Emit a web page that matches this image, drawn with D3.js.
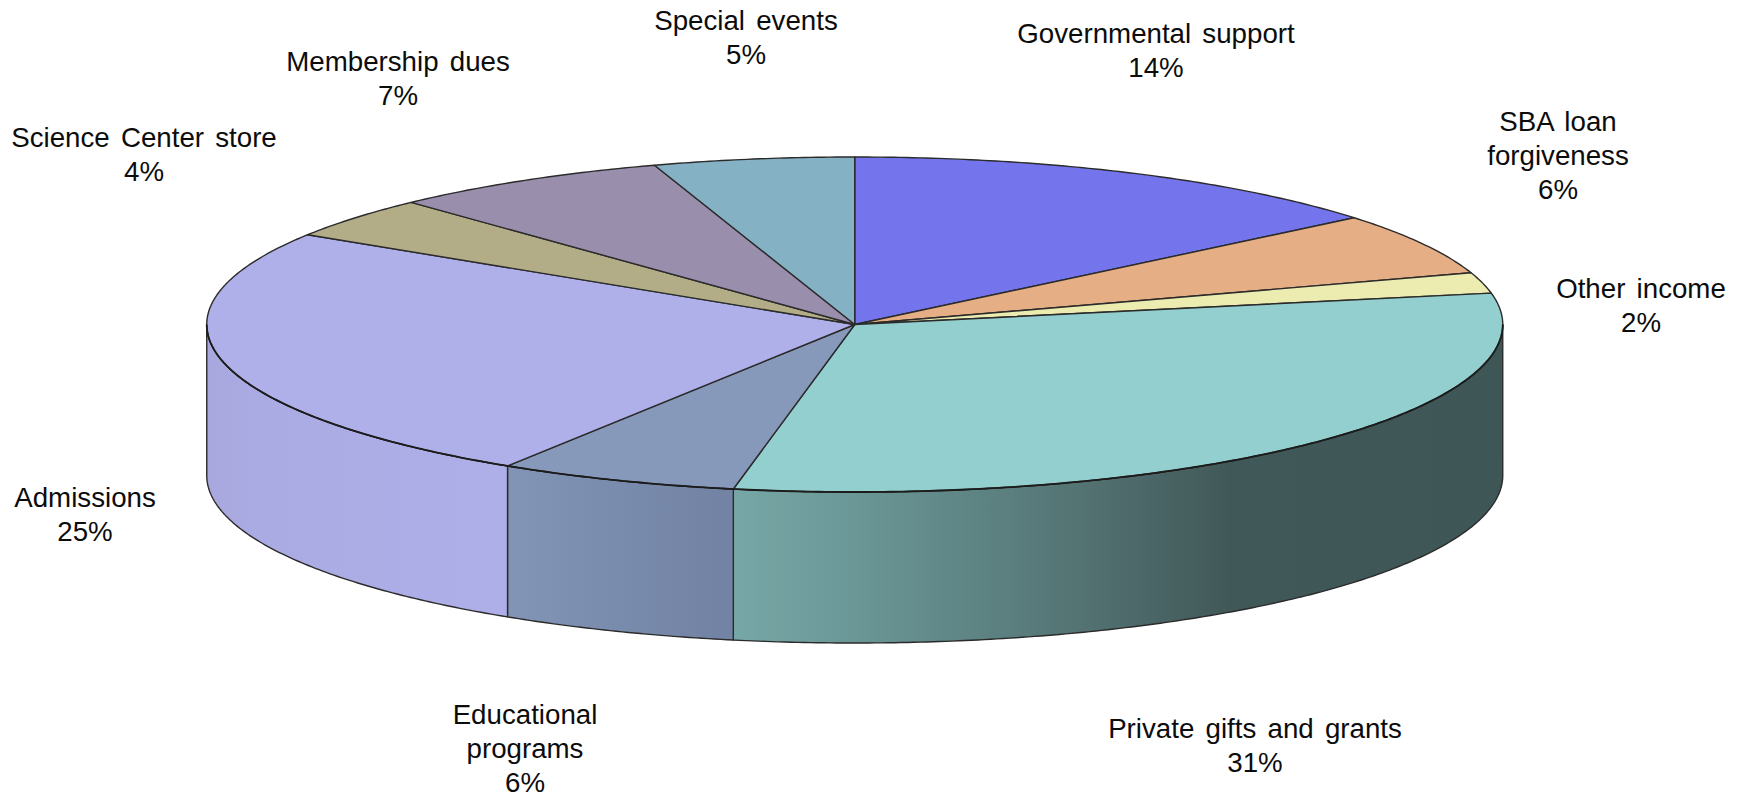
<!DOCTYPE html>
<html>
<head>
<meta charset="utf-8">
<title>Operating revenue by source</title>
<script src="https://cdn.jsdelivr.net/npm/d3@7/dist/d3.min.js"></script>
<style>
  html, body { margin: 0; padding: 0; background: #fff; }
  svg { display: block; }
  text { font-family: "Liberation Sans", Arial, sans-serif; font-size: 27.7px; fill: #0c0c0c; word-spacing: 3.5px; }
</style>
</head>
<body>
<svg id="chart" width="1745" height="797"></svg>
<script>
// Revenue sources, clockwise from twelve o'clock
const categories = [
  "Governmental support", "SBA loan forgiveness", "Other income",
  "Private gifts and grants", "Educational programs", "Admissions",
  "Science Center store", "Membership dues", "Special events"
];
const shares = [14, 6, 2, 31, 6, 25, 4, 7, 5];
const topColors = [
  "#7475ec", "#e6ae84", "#ecebb0", "#93cfcf", "#8699bb",
  "#afafea", "#b2ad87", "#9a8ead", "#84b2c4"
];

// Wrapped label lines and their placement (centre x, first baseline)
const labelLines = [
  ["Governmental support"], ["SBA loan", "forgiveness"], ["Other income"],
  ["Private gifts and grants"], ["Educational", "programs"], ["Admissions"],
  ["Science Center store"], ["Membership dues"], ["Special events"]
];
const labelAnchors = [
  [1156, 43], [1558, 131], [1641, 298],
  [1255, 738], [525, 724], [85, 507],
  [144, 147], [398, 71], [746, 30]
];

// Shading of the rim, as [x, colour] stops along the horizontal
const rimStops = {
  "Private gifts and grants": [[718, "#78a9a8"], [860, "#6a9696"], [1060, "#567676"], [1230, "#415858"], [1503, "#3f5656"]],
  "Educational programs": [[484, "#8497b8"], [718, "#7283a4"]],
  "Admissions": [[207, "#a8a8de"], [260, "#ababe4"], [484, "#aeaee8"]]
};

const cx = 854.75, cy = 324.5, rx = 648, ry = 167.5, depth = 151;
const lineHeight = 34;
const stroke = "#2b2b2b";

const svg = d3.select("#chart");
const defs = svg.append("defs");

const pie = d3.pie().sort(null).value(d => d.share);
const slices = pie(categories.map((name, i) => ({ name, share: shares[i], color: topColors[i] })));

// Pie angles run clockwise from the top; the disc is a flattened circle
const rimX = a => cx + rx * Math.sin(a);
const rimY = a => cy - ry * Math.cos(a);
const rimLine = d3.line().x(a => rimX(a)).y(a => rimY(a));

// Sample an arc of the ellipse between two angles
const sampleAngles = (a0, a1) => {
  const n = Math.max(2, Math.ceil(Math.abs(a1 - a0) / 0.01));
  return d3.range(n + 1).map(i => a0 + (a1 - a0) * i / n);
};

// Rim: only the part of each slice facing the viewer (90° to 270°)
const front0 = Math.PI / 2, front1 = 3 * Math.PI / 2;
const rim = svg.append("g").attr("class", "rim");
slices.forEach((s, i) => {
  const a0 = Math.max(s.startAngle, front0), a1 = Math.min(s.endAngle, front1);
  if (a1 <= a0) return;
  const id = "rim-shade-" + i;
  const stops = rimStops[s.data.name];
  const xs = stops.map(d => d[0]);
  const grad = defs.append("linearGradient").attr("id", id)
    .attr("gradientUnits", "userSpaceOnUse")
    .attr("x1", d3.min(xs)).attr("x2", d3.max(xs)).attr("y1", 0).attr("y2", 0);
  const offset = d3.scaleLinear().domain(d3.extent(xs)).range([0, 1]);
  stops.forEach(d => grad.append("stop").attr("offset", offset(d[0])).attr("stop-color", d[1]));

  const upper = sampleAngles(a0, a1).map(a => [rimX(a), rimY(a)]);
  const lower = upper.slice().reverse().map(p => [p[0], p[1] + depth]);
  rim.append("path")
    .attr("d", d3.line()(upper.concat(lower)) + "Z")
    .attr("fill", `url(#${id})`)
    .attr("stroke", stroke)
    .attr("stroke-width", 1.4)
    .attr("stroke-linejoin", "round");
});

// Top face of the disc
const topFace = svg.append("g").attr("class", "top-face");
slices.forEach(s => {
  const pts = sampleAngles(s.startAngle, s.endAngle).map(a => [rimX(a), rimY(a)]);
  topFace.append("path")
    .attr("d", d3.line()([[cx, cy], ...pts]) + "Z")
    .attr("fill", s.data.color)
    .attr("stroke", stroke)
    .attr("stroke-width", 1.4)
    .attr("stroke-linejoin", "round");
});

// Front edge of the top face reads heavier against the rim
svg.append("path")
  .attr("d", rimLine(sampleAngles(front0, front1)))
  .attr("fill", "none")
  .attr("stroke", "#1c1c1c")
  .attr("stroke-width", 1.8);

// Labels: category lines followed by the share
const labels = svg.append("g").attr("class", "labels").attr("text-anchor", "middle");
categories.forEach((name, i) => {
  const [x, y] = labelAnchors[i];
  const lines = labelLines[i].concat(shares[i] + "%");
  const t = labels.append("text").attr("x", x).attr("y", y);
  lines.forEach((line, k) => {
    t.append("tspan").attr("x", x).attr("dy", k ? lineHeight : 0).text(line);
  });
});
</script>
</body>
</html>
